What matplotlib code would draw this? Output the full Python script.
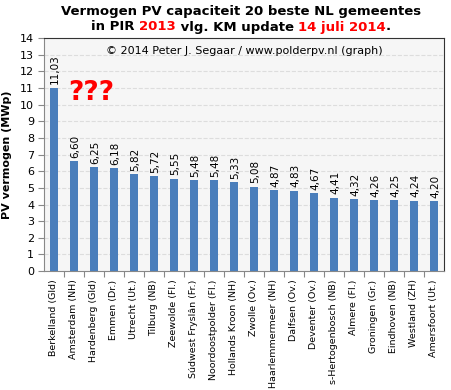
import matplotlib.pyplot as plt

gemeenten = ['Berkelland (Gld)', 'Amsterdam (NH)', 'Hardenberg (Gld)', 'Emmen (Dr.)',
             'Utrecht (Ut.)', 'Tilburg (NB)', 'Zeewolde (Fl.)', 'Súdwest Fryslân (Fr.)',
             'Noordoostpolder (Fl.)', 'Hollands Kroon (NH)', 'Zwolle (Ov.)',
             'Haarlemmermeer (NH)', 'Dalfsen (Ov.)', 'Deventer (Ov.)',
             's-Hertogenbosch (NB)', 'Almere (Fl.)', 'Groningen (Gr.)',
             'Eindhoven (NB)', 'Westland (ZH)', 'Amersfoort (Ut.)']
vermogen = [11.03, 6.60, 6.25, 6.18, 5.82, 5.72, 5.55, 5.48, 5.48, 5.33,
            5.08, 4.87, 4.83, 4.67, 4.41, 4.32, 4.26, 4.25, 4.24, 4.20]
yticks = list(range(0, 15))

bar_color = '#4A7EBB'

fig = plt.figure(figsize=(4.52, 3.90), dpi=100)
ax = fig.add_axes([0.0973, 0.305, 0.885, 0.597])
ax.set_facecolor('#F6F6F6')

x = list(range(len(gemeenten)))
ax.bar(x, vermogen, width=0.4, color=bar_color, zorder=3)
for xi, v in zip(x, vermogen):
    ax.text(xi + 0.05, v + 0.2, f'{v:.2f}'.replace('.', ','), rotation=90,
            ha='center', va='bottom', fontsize=7.5, zorder=4)

ax.set_xlim(-0.5, len(gemeenten) - 0.5)
ax.set_ylim(0, 14)
ax.set_yticks(yticks)
ax.tick_params(axis='y', labelsize=8, length=4, color='#888888', pad=3)
ax.set_xticks([i + 0.5 for i in x[:-1]], minor=False)
ax.set_xticklabels([])
ax.tick_params(axis='x', length=4, color='#888888')
ax.set_xticks(x, minor=True)
ax.set_xticklabels(gemeenten, minor=True, rotation=90, fontsize=6.8)
ax.tick_params(axis='x', which='minor', length=0, pad=6)
ax.yaxis.grid(True, color='#DDDDDD', linestyle='--', linewidth=0.8, zorder=0)

for s in ['left', 'bottom']:
    ax.spines[s].set_color('#888888')
for s in ['top', 'right']:
    ax.spines[s].set_color('#333333')

ax.set_ylabel('PV vermogen (MWp)', fontsize=8, fontweight='bold')
ax.yaxis.set_label_coords(-0.08, 0.5)

ax.text(9.5, 13.25, '© 2014 Peter J. Segaar / www.polderpv.nl (graph)',
        ha='center', va='center', fontsize=8)
ax.text(1.85, 10.7, '???', color='red', fontsize=19, fontweight='bold',
        ha='center', va='center', zorder=5)

# titel in stukken met rode delen
title_lines = [
    [('Vermogen PV capaciteit 20 beste NL gemeentes', 'black')],
    [('in PIR ', 'black'), ('2013', 'red'), (' vlg. KM update ', 'black'),
     ('14 juli 2014', 'red'), ('.', 'black')],
]
fig.canvas.draw()
renderer = fig.canvas.get_renderer()
cx = 241 / 452
for line, ypos in zip(title_lines, [1 - 11 / 390, 1 - 27 / 390]):
    texts = []
    for s, c in line:
        t = fig.text(0, ypos, s, color=c, fontsize=9.5, fontweight='bold',
                     va='center', ha='left')
        texts.append(t)
    widths = [t.get_window_extent(renderer).width / fig.bbox.width for t in texts]
    xpos = cx - sum(widths) / 2
    for t, w in zip(texts, widths):
        t.set_x(xpos)
        xpos += w

fig.savefig('out.png', dpi=100, facecolor='white')
